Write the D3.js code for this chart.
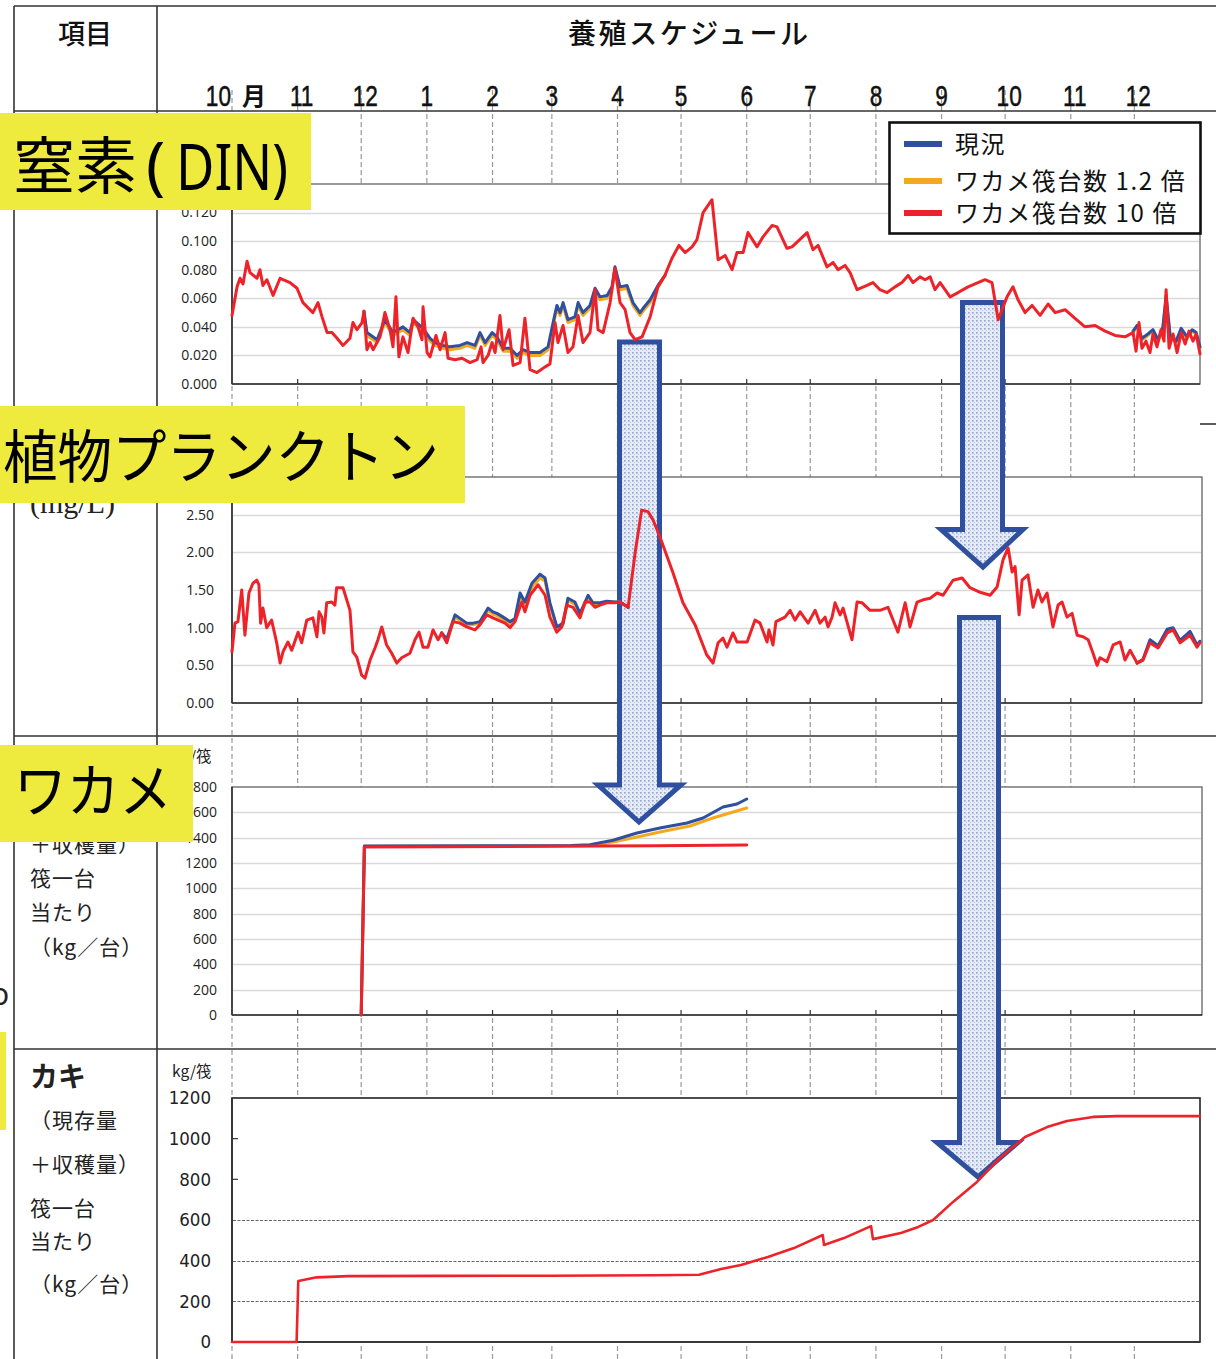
<!DOCTYPE html>
<html>
<head>
<meta charset="utf-8">
<script src="https://cdn.jsdelivr.net/npm/d3@7"></script>
<style>
  html, body { margin: 0; padding: 0; background: #fff; }
  svg { display: block; }
</style>
</head>
<body>
<svg id="chart" width="1216" height="1359"></svg>
<script>
// ---- data -------------------------------------------------------------
// x values are days counted from 1 October (start of the culture season)
const monthLabels = ["10", "11", "12", "1", "2", "3", "4", "5", "6", "7", "8", "9", "10", "11", "12"];
const seriesNames = ["現況", "ワカメ筏台数 1.2 倍", "ワカメ筏台数 10 倍"];

// 窒素 (DIN)
const dinRed = [[0,0.048],[2.4,0.068],[3.8,0.074],[5.2,0.070],[7.1,0.086],[8.5,0.078],[11.8,0.074],[13.2,0.080],[14.6,0.069],[16.5,0.073],[19.4,0.062],[22.7,0.074],[27.4,0.071],[30.7,0.067],[33.5,0.057],[38.2,0.050],[40.6,0.057],[42.5,0.047],[44.9,0.036],[47.2,0.036],[49.6,0.032],[52.4,0.027],[55.7,0.032],[57.1,0.043],[59.0,0.038],[61.4,0.043],[62.3,0.051],[63.7,0.024],[65.2,0.029],[66.6,0.024],[69.9,0.033],[72.2,0.050],[74.6,0.038],[76.0,0.026],[77.4,0.061],[78.8,0.019],[80.7,0.033],[83.1,0.022],[85.5,0.046],[87.8,0.040],[89.7,0.031],[90.2,0.054],[92.1,0.022],[93.5,0.019],[96.3,0.034],[98.2,0.024],[100.6,0.036],[102.0,0.018],[105.3,0.017],[108.6,0.018],[112.4,0.015],[115.7,0.017],[117.6,0.026],[118.5,0.015],[120.9,0.020],[122.8,0.029],[124.2,0.022],[126.5,0.048],[128.0,0.024],[130.8,0.038],[132.7,0.013],[136.0,0.015],[138.3,0.046],[140.7,0.010],[144.0,0.008],[147.8,0.012],[150.1,0.014],[152.5,0.043],[153.9,0.029],[156.3,0.041],[158.6,0.022],[161.0,0.026],[163.4,0.048],[165.7,0.029],[169.0,0.036],[171.4,0.066],[172.8,0.038],[175.2,0.036],[178.5,0.057],[180.8,0.081],[183.2,0.057],[185.6,0.052],[187.9,0.036],[190.3,0.031],[193.6,0.033],[197.4,0.047],[201.1,0.068],[204.4,0.076],[207.7,0.088],[211.0,0.097],[213.9,0.092],[217.2,0.096],[219.5,0.101],[222.4,0.120],[226.6,0.129],[229.5,0.087],[232.8,0.090],[236.1,0.080],[238.4,0.092],[241.3,0.092],[243.6,0.106],[247.9,0.096],[250.7,0.103],[255.0,0.111],[257.3,0.110],[262.0,0.095],[264.4,0.096],[271.5,0.106],[274.3,0.094],[276.7,0.097],[280.9,0.082],[283.8,0.085],[286.1,0.080],[289.4,0.083],[291.8,0.078],[295.1,0.066],[299.8,0.069],[302.6,0.071],[305.9,0.066],[309.3,0.064],[313.0,0.068],[316.3,0.071],[319.2,0.076],[321.5,0.071],[324.8,0.075],[327.2,0.073],[329.6,0.075],[331.9,0.066],[334.3,0.071],[339.0,0.061],[342.8,0.064],[347.5,0.068],[355.5,0.073],[358.8,0.071],[361.7,0.045],[365.9,0.061],[368.7,0.068],[371.1,0.059],[374.4,0.050],[377.7,0.055],[381.5,0.048],[385.3,0.056],[388.6,0.050],[393.3,0.052],[398.0,0.046],[402.7,0.040],[407.5,0.041],[412.2,0.037],[416.9,0.034],[421.6,0.033],[425.4,0.036],[426.8,0.023],[428.2,0.043],[429.6,0.025],[431.5,0.030],[433.4,0.022],[434.8,0.035],[436.7,0.026],[438.6,0.038],[440.0,0.030],[441.0,0.066],[442.4,0.025],[444.3,0.035],[446.2,0.022],[448.1,0.036],[450.0,0.028],[451.8,0.037],[453.7,0.030],[455.2,0.035],[457.0,0.021]];
// 現況 and 1.2倍 only part from the 10倍 case during the wakame season and in late autumn
const dinBlue = [[62.3,0.051],[63.7,0.036],[68.5,0.031],[72.2,0.045],[76.0,0.036],[80.7,0.040],[84.0,0.036],[85.5,0.045],[90.2,0.039],[93.5,0.032],[95.8,0.029],[99.6,0.027],[102.9,0.026],[107.6,0.027],[111.0,0.029],[114.7,0.027],[117.1,0.036],[119.5,0.029],[122.8,0.036],[125.1,0.033],[128.0,0.025],[131.3,0.025],[134.6,0.020],[137.4,0.024],[140.7,0.022],[145.4,0.022],[149.2,0.026],[151.6,0.043],[153.4,0.055],[154.9,0.050],[156.3,0.057],[158.6,0.045],[161.9,0.047],[163.4,0.057],[165.7,0.050],[169.0,0.055],[171.4,0.067],[173.7,0.061],[177.1,0.062],[179.4,0.068],[180.8,0.082],[183.2,0.068],[186.5,0.069],[189.3,0.057],[192.6,0.050],[194.1,0.053],[197.4,0.059],[201.1,0.069],[204.4,0.076]];
const dinOrange = [[62.3,0.051],[63.7,0.034],[68.5,0.029],[72.2,0.043],[76.0,0.034],[80.7,0.038],[84.0,0.034],[85.5,0.043],[90.2,0.037],[93.5,0.030],[95.8,0.027],[99.6,0.025],[102.9,0.024],[107.6,0.025],[111.0,0.027],[114.7,0.025],[117.1,0.034],[119.5,0.027],[122.8,0.034],[125.1,0.031],[128.0,0.023],[131.3,0.023],[134.6,0.018],[137.4,0.022],[140.7,0.020],[145.4,0.020],[149.2,0.024],[151.6,0.041],[153.4,0.053],[154.9,0.048],[156.3,0.055],[158.6,0.043],[161.9,0.045],[163.4,0.055],[165.7,0.048],[169.0,0.053],[171.4,0.065],[173.7,0.059],[177.1,0.060],[179.4,0.066],[180.8,0.081],[183.2,0.066],[186.5,0.067],[189.3,0.055],[192.6,0.048],[194.1,0.051],[197.4,0.057],[201.1,0.068],[204.4,0.076]];
const dinBlueLate = [[425.4,0.037],[427.3,0.041],[429.6,0.032],[432.4,0.035],[434.8,0.038],[437.2,0.031],[439.5,0.040],[441.0,0.062],[442.9,0.034],[445.7,0.030],[448.1,0.039],[450.9,0.033],[453.3,0.038],[455.2,0.036],[457.0,0.026]];
const dinOrangeLate = [[425.4,0.036],[427.3,0.040],[429.6,0.031],[432.4,0.034],[434.8,0.037],[437.2,0.030],[439.5,0.039],[441.0,0.061],[442.9,0.033],[445.7,0.029],[448.1,0.038],[450.9,0.032],[453.3,0.037],[455.2,0.035],[457.0,0.025]];

// 植物プランクトン (mg/L)
const phyRed = [[0,0.68],[1.4,1.06],[2.8,1.08],[4.6,1.50],[6.1,0.90],[8.0,1.46],[9.9,1.59],[11.7,1.63],[12.7,1.57],[13.5,1.06],[14.6,1.26],[16.4,1.00],[18.7,1.10],[21.1,0.80],[22.7,0.53],[24.1,0.68],[26.4,0.81],[28.2,0.70],[31.2,0.94],[32.9,0.80],[35.3,1.10],[38.2,1.13],[40.1,0.88],[41.1,1.21],[42.4,1.14],[43.4,0.93],[44.7,1.33],[47.1,1.34],[48.6,1.30],[49.4,1.53],[52.4,1.53],[55.7,1.23],[57.1,0.68],[58.9,0.61],[61.2,0.37],[62.8,0.33],[65.2,0.57],[67.5,0.73],[68.9,0.84],[70.7,1.01],[73.0,0.77],[75.4,0.66],[77.8,0.53],[80.1,0.60],[84.0,0.66],[86.4,0.84],[88.3,0.94],[90.2,0.74],[92.5,0.74],[94.9,0.97],[97.3,0.84],[99.0,0.93],[101.4,0.80],[104.3,1.08],[107.6,1.06],[110.8,1.01],[114.7,0.97],[117.1,1.04],[120.3,1.17],[123.2,1.13],[125.6,1.10],[128.9,1.06],[131.3,1.00],[133.6,1.08],[136.8,1.34],[138.3,1.21],[140.7,1.43],[144.5,1.57],[147.8,1.43],[150.1,1.14],[153.3,0.94],[155.7,1.01],[158.0,1.30],[161.0,1.27],[164.3,1.13],[166.7,1.34],[169.0,1.34],[171.4,1.27],[173.7,1.30],[176.9,1.33],[180.8,1.33],[183.2,1.34],[187.0,1.27],[190.3,1.99],[193.4,2.56],[196.4,2.54],[198.8,2.43],[202.1,2.20],[208.2,1.73],[212.9,1.33],[218.6,1.04],[224.1,0.64],[227.1,0.53],[229.5,0.80],[231.8,0.86],[233.7,0.74],[236.5,0.93],[238.4,0.81],[243.2,0.81],[246.9,1.10],[249.3,1.06],[252.6,0.81],[253.5,0.97],[255.4,0.77],[256.8,1.08],[261.1,1.14],[263.5,1.23],[265.8,1.10],[268.2,1.21],[272.0,1.06],[275.3,1.23],[277.6,1.06],[280.0,1.14],[281.4,1.01],[283.3,1.14],[284.7,1.33],[287.1,1.17],[288.5,1.26],[292.7,0.84],[295.1,1.34],[297.5,1.33],[301.2,1.23],[305.9,1.23],[309.7,1.27],[314.4,0.94],[317.8,1.33],[320.1,1.01],[323.4,1.34],[326.3,1.37],[329.6,1.39],[332.9,1.46],[335.7,1.43],[340.4,1.63],[344.7,1.66],[348.4,1.53],[353.2,1.47],[357.9,1.43],[361.2,1.54],[364.0,1.90],[366.4,2.06],[368.3,1.74],[369.7,1.81],[371.6,1.17],[373.0,1.63],[375.8,1.70],[378.2,1.27],[380.5,1.50],[382.4,1.34],[384.8,1.46],[387.6,1.01],[390.0,1.30],[391.9,1.34],[394.2,1.14],[396.6,1.19],[399.0,0.90],[401.8,0.88],[404.2,0.84],[406.5,0.66],[408.4,0.50],[409.8,0.60],[413.1,0.55],[416.0,0.77],[419.3,0.81],[421.6,0.57],[424.0,0.70],[427.3,0.53],[430.1,0.57],[433.4,0.80],[437.2,0.73],[441.5,0.93],[444.3,0.97],[447.6,0.80],[452.3,0.90],[455.6,0.74],[457.0,0.80]];
const phyBlue = [[99.0,0.93],[101.4,0.85],[105.3,1.17],[110.8,1.06],[113.8,1.06],[117.1,1.08],[120.9,1.26],[123.2,1.21],[125.1,1.19],[128.0,1.14],[131.3,1.08],[133.6,1.12],[136.0,1.46],[138.3,1.34],[141.6,1.59],[145.4,1.71],[147.8,1.66],[150.1,1.33],[153.4,1.01],[156.3,1.06],[158.6,1.39],[161.9,1.34],[164.3,1.19],[168.1,1.43],[170.4,1.33],[173.7,1.33],[176.9,1.35],[180.8,1.34],[183.2,1.34],[187.0,1.27]];
const phyOrange = [[99.0,0.93],[101.4,0.83],[105.3,1.14],[110.8,1.04],[113.8,1.04],[117.1,1.06],[120.9,1.23],[123.2,1.18],[125.1,1.16],[128.0,1.11],[131.3,1.05],[133.6,1.10],[136.0,1.42],[138.3,1.30],[141.6,1.54],[145.4,1.66],[147.8,1.62],[150.1,1.30],[153.4,0.99],[156.3,1.04],[158.6,1.36],[161.9,1.31],[164.3,1.17],[168.1,1.40],[170.4,1.31],[173.7,1.32],[176.9,1.34],[180.8,1.34],[183.2,1.34],[187.0,1.27]];
const phyBlueLate = [[427.3,0.53],[430.1,0.58],[433.4,0.84],[437.2,0.76],[441.5,0.98],[444.3,1.00],[447.6,0.83],[452.3,0.95],[455.6,0.77],[457.0,0.82]];
const phyOrangeLate = [[427.3,0.53],[430.1,0.57],[433.4,0.82],[437.2,0.74],[441.5,0.96],[444.3,0.98],[447.6,0.82],[452.3,0.93],[455.6,0.76],[457.0,0.81]];

// ワカメ (現存量+収穫量, kg/台)
const wakameBlue = [[61,0],[62.5,1335],[120,1336],[160,1338],[169,1345],[179.9,1380],[191.2,1437],[202,1476],[214.8,1516],[222.4,1555],[231.8,1642],[238.4,1666],[243,1705]];
const wakameOrange = [[61,0],[62.5,1333],[120,1334],[165,1336],[173,1342],[191.2,1405],[202,1445],[216.2,1492],[227,1555],[235,1595],[243,1634]];
const wakameRed = [[61,0],[62.5,1326],[100,1328],[150,1332],[200,1336],[243,1342]];

// カキ (現存量+収穫量, kg/台)
const oysterRed = [[0,0],[30.5,0],[31.3,300],[40,318],[55,324],[100,325],[150,326],[200,328],[220.5,331],[230.9,359],[240.3,379],[253,418],[265.3,462],[278.9,526],[279.5,477],[288.9,511],[301.7,570],[302.6,506],[315.8,536],[324,566],[331,600],[340.4,689],[351.7,787],[362.5,905],[374.4,1008],[384.8,1057],[394.2,1087],[406.5,1107],[417.8,1111],[457,1111]];

// ---- drawing ----------------------------------------------------------
const COLORS = { blue: "#2f4f9f", orange: "#f3a91f", red: "#ee2329" };
const YELLOW = "#eeea3e";
const JP = "'Noto Sans CJK JP', 'Noto Sans', sans-serif";

const svg = d3.select("#chart");
svg.append("rect").attr("width", 1216).attr("height", 1359).attr("fill", "#fff");

const t0 = Date.UTC(2018, 9, 1);
const day = d => new Date(t0 + d * 864e5);
const x = d3.scaleUtc().domain([day(0), day(457)]).range([232, 1200]);
const months = d3.utcMonth.range(day(0), day(457));

// dotted fill for the block arrows
const defs = svg.append("defs");
const pat = defs.append("pattern").attr("id", "dots")
  .attr("width", 4).attr("height", 4).attr("patternUnits", "userSpaceOnUse");
pat.append("rect").attr("width", 4).attr("height", 4).attr("fill", "#e6ebf6");
pat.append("rect").attr("width", 1.6).attr("height", 1.6).attr("fill", "#93a5d4");
pat.append("rect").attr("x", 2).attr("y", 2).attr("width", 1).attr("height", 1).attr("fill", "#b9c6e6");

// layers: table/axes below, block arrows, then the data curves on top
const baseLayer = svg.append("g");
const arrowLayer = svg.append("g");
const dataLayer = svg.append("g");
const topLayer = svg.append("g");

// dashed month guides running through the whole schedule table
baseLayer.append("g").selectAll("line").data(months).join("line")
  .attr("x1", d => x(d)).attr("x2", d => x(d))
  .attr("y1", 90).attr("y2", 1359)
  .attr("stroke", "#9a9a9a").attr("stroke-width", 1.2).attr("stroke-dasharray", "5,3");

// table frame
const table = baseLayer.append("g").attr("stroke", "#333").attr("stroke-width", 1.6);
table.append("line").attr("x1", 14).attr("x2", 1216).attr("y1", 6).attr("y2", 6);
table.append("line").attr("x1", 14).attr("x2", 14).attr("y1", 6).attr("y2", 1359);
table.append("line").attr("x1", 157).attr("x2", 157).attr("y1", 6).attr("y2", 1359);
table.append("line").attr("x1", 14).attr("x2", 1216).attr("y1", 111).attr("y2", 111);
table.append("line").attr("x1", 1200).attr("x2", 1216).attr("y1", 424).attr("y2", 424);
table.append("line").attr("x1", 14).attr("x2", 1216).attr("y1", 736).attr("y2", 736);
table.append("line").attr("x1", 14).attr("x2", 1216).attr("y1", 1049).attr("y2", 1049);

// header
baseLayer.append("text").attr("x", 85).attr("y", 44).attr("text-anchor", "middle")
  .attr("font-family", JP).attr("font-size", 27).attr("font-weight", 500).attr("fill", "#111")
  .text("項目");
baseLayer.append("text").attr("x", 568).attr("y", 44)
  .attr("font-family", JP).attr("font-size", 28).attr("font-weight", 500).attr("fill", "#111")
  .attr("textLength", 240).attr("lengthAdjust", "spacing")
  .text("養殖スケジュール");

// month labels in a narrow face
const monthG = baseLayer.append("g").attr("font-family", "'Liberation Sans', sans-serif")
  .attr("font-size", 29).attr("fill", "#111").attr("stroke", "#111").attr("stroke-width", 0.5);
months.forEach((m, i) => {
  const lab = monthLabels[i];
  if (i === 0) {
    monthG.append("text").attr("transform", `translate(${x(m) - 1},106) scale(0.78,1)`)
      .attr("text-anchor", "end").text(lab);
    monthG.append("text").attr("x", x(m) + 10).attr("y", 105).attr("font-family", JP)
      .attr("stroke", "none").attr("font-size", 24).attr("font-weight", 700).text("月");
  } else {
    monthG.append("text").attr("transform", `translate(${x(m) + (lab.length > 1 ? 4 : 0)},106) scale(0.78,1)`)
      .attr("text-anchor", "middle").text(lab);
  }
});

// chart panels
const panels = [
  { top: 184, bottom: 384, right: 1200, max: 0.14, step: 0.02, fmt: d3.format(".3f"), labelX: 217,
    labelFont: "'Open Sans', sans-serif", labelSize: 14, grid: "solid", gridMax: 0.12, lw: 3,
    lines: [[dinOrange, "orange"], [dinOrangeLate, "orange"], [dinBlue, "blue"], [dinBlueLate, "blue"], [dinRed, "red"]] },
  { top: 477, bottom: 703, right: 1202, max: 3.0, step: 0.5, fmt: d3.format(".2f"), labelX: 214,
    labelFont: "'Open Sans', sans-serif", labelSize: 14, grid: "solid", gridMax: 2.5, lw: 3,
    lines: [[phyOrange, "orange"], [phyOrangeLate, "orange"], [phyBlue, "blue"], [phyBlueLate, "blue"], [phyRed, "red"]] },
  { top: 787, bottom: 1015, right: 1202, max: 1800, step: 200, fmt: d3.format("d"), labelX: 217,
    labelFont: "'Open Sans', sans-serif", labelSize: 14, grid: "solid", gridMax: 1600, lw: 3,
    lines: [[wakameOrange, "orange"], [wakameBlue, "blue"], [wakameRed, "red"]] },
  { top: 1098, bottom: 1342, right: 1200, max: 1200, step: 200, fmt: d3.format("d"), labelX: 211,
    labelFont: "'Liberation Sans Narrow', 'DejaVu Sans Condensed', sans-serif", labelSize: 18.5, grid: "dash", gridMax: 600, lw: 2.6,
    lines: [[oysterRed, "red"]] }
];

panels.forEach((p, pi) => {
  const y = d3.scaleLinear().domain([0, p.max]).range([p.bottom, p.top]);
  const g = baseLayer.append("g");
  const ticks = d3.range(0, p.max + p.step / 2, p.step);

  g.append("rect").attr("x", 232).attr("y", p.top).attr("width", p.right - 232).attr("height", p.bottom - p.top)
    .attr("fill", "#fff").attr("stroke", pi === 3 ? "#222" : "#555").attr("stroke-width", pi === 3 ? 1.6 : 1.2);

  // horizontal gridlines
  g.append("g").selectAll("line").data(ticks.filter(v => v > 0 && v <= p.gridMax + 1e-9)).join("line")
    .attr("x1", 233).attr("x2", p.right - 1)
    .attr("y1", d => Math.round(y(d)) + 0.5).attr("y2", d => Math.round(y(d)) + 0.5)
    .attr("stroke", p.grid === "dash" ? "#666" : "#d9d9d9")
    .attr("stroke-width", p.grid === "dash" ? 1 : 1.4)
    .attr("stroke-dasharray", p.grid === "dash" ? "3,1.5" : null);

  // inner tick marks on the value axis where no gridline is drawn
  g.append("g").selectAll("line").data(ticks.filter(v => v > p.gridMax + 1e-9 && v < p.max - 1e-9)).join("line")
    .attr("x1", 232).attr("x2", 238).attr("y1", d => y(d)).attr("y2", d => y(d))
    .attr("stroke", "#333").attr("stroke-width", 1.2);

  // month ticks on the time axis
  if (pi < 3) {
    g.append("g").selectAll("line").data(months.slice(1)).join("line")
      .attr("x1", d => x(d)).attr("x2", d => x(d)).attr("y1", p.bottom - 5).attr("y2", p.bottom)
      .attr("stroke", "#333").attr("stroke-width", 1.2);
  }

  // axis lines
  g.append("line").attr("x1", 232).attr("x2", 232).attr("y1", p.top).attr("y2", p.bottom)
    .attr("stroke", "#333").attr("stroke-width", 1.6);
  g.append("line").attr("x1", 232).attr("x2", p.right).attr("y1", p.bottom).attr("y2", p.bottom)
    .attr("stroke", "#333").attr("stroke-width", 1.6);

  // value labels
  g.append("g").selectAll("text").data(ticks).join("text")
    .attr("x", p.labelX).attr("y", d => y(d)).attr("dy", "0.35em").attr("text-anchor", "end")
    .attr("font-family", p.labelFont).attr("font-size", p.labelSize).attr("fill", "#222")
    .text(d => p.fmt(d));

  const line = d3.line().x(d => x(day(d[0]))).y(d => y(d[1]));
  p.lines.forEach(([data, key]) => {
    dataLayer.append("path").attr("d", line(data)).attr("fill", "none")
      .attr("stroke", COLORS[key]).attr("stroke-width", p.lw)
      .attr("stroke-linejoin", "round").attr("stroke-linecap", "round");
  });
});

// unit labels above the value axes
baseLayer.append("text").attr("x", 172).attr("y", 762).attr("font-family", JP).attr("font-size", 15.5).attr("fill", "#222").text("kg/筏");
baseLayer.append("text").attr("x", 172).attr("y", 1077).attr("font-family", JP).attr("font-size", 15.5).attr("fill", "#222").text("kg/筏");

// legend
const leg = topLayer.append("g");
leg.append("rect").attr("x", 889.5).attr("y", 122.5).attr("width", 311).attr("height", 111)
  .attr("fill", "#fff").attr("stroke", "#111").attr("stroke-width", 2.6);
const legKeys = ["blue", "orange", "red"];
const legY = [144, 181, 213];
seriesNames.forEach((name, i) => {
  leg.append("line").attr("x1", 904).attr("x2", 942).attr("y1", legY[i]).attr("y2", legY[i])
    .attr("stroke", COLORS[legKeys[i]]).attr("stroke-width", 6);
  leg.append("text").attr("x", 955).attr("y", legY[i]).attr("dy", "0.36em")
    .attr("font-family", JP).attr("font-size", 24).attr("fill", "#111")
    .attr("letter-spacing", 1.6).text(name);
});

// row captions in the item column
const cap = baseLayer.append("g").attr("font-family", JP).attr("fill", "#222");
cap.append("text").attr("x", 30).attr("y", 513).attr("font-family", "'Liberation Serif', serif")
  .attr("font-size", 30).text("(mg/L)");
const captionLines = ["（現存量", "＋収穫量）", "筏一台", "当たり", "（kg／台）"];
const rowCaption = (title, titleY, ys) => {
  cap.append("text").attr("x", 30).attr("y", titleY).attr("font-size", 28).attr("font-weight", 700).text(title);
  captionLines.forEach((t, i) => cap.append("text").attr("x", 30).attr("y", ys[i])
    .attr("font-size", 21).attr("letter-spacing", 1).text(t));
};
rowCaption("ワカメ", 774, [814, 852, 886, 920, 955]);
rowCaption("カキ", 1087, [1128, 1172, 1216, 1249, 1292]);
cap.append("text").attr("x", -9).attr("y", 1005).attr("font-family", "'Noto Sans', sans-serif").attr("font-size", 30).text("o");

// block arrows linking the panels
const arrows = [
  { l: 619.5, r: 659.5, top: 342, base: 785, wl: 598, wr: 681, tx: 639, ty: 822 },
  { l: 962.5, r: 1002.5, top: 302.5, base: 529.5, wl: 941, wr: 1023, tx: 983, ty: 567 },
  { l: 959.5, r: 998.5, top: 617.5, base: 1142.5, wl: 937, wr: 1018, tx: 978, ty: 1177 }
];
arrowLayer.selectAll("path").data(arrows).join("path")
  .attr("d", a => `M${a.l},${a.top}H${a.r}V${a.base}H${a.wr}L${a.tx},${a.ty}L${a.wl},${a.base}H${a.l}Z`)
  .attr("fill", "url(#dots)").attr("stroke", "#2f4f9f").attr("stroke-width", 5)
  .attr("stroke-linejoin", "miter");

// yellow panel titles
const tag = topLayer.append("g");
tag.append("rect").attr("x", 0).attr("y", 113).attr("width", 311).attr("height", 97).attr("fill", YELLOW);
tag.append("text").attr("x", 13).attr("y", 189).attr("font-family", JP).attr("font-size", 62).attr("fill", "#000").text("窒素");
tag.append("text").attr("x", 146).attr("y", 188).attr("font-family", "'Noto Sans', sans-serif").attr("font-size", 64).attr("fill", "#000").text("(");
tag.append("text").attr("x", 176).attr("y", 190).attr("font-family", "'Noto Sans', sans-serif").attr("font-size", 64)
  .attr("fill", "#000").attr("textLength", 112).attr("lengthAdjust", "spacingAndGlyphs").text("DIN)");

tag.append("rect").attr("x", 0).attr("y", 406).attr("width", 465).attr("height", 97).attr("fill", YELLOW);
tag.append("text").attr("x", 3).attr("y", 478).attr("font-family", JP).attr("font-size", 58).attr("fill", "#000")
  .attr("textLength", 436).attr("lengthAdjust", "spacingAndGlyphs").text("植物プランクトン");

tag.append("rect").attr("x", 0).attr("y", 745).attr("width", 193).attr("height", 97).attr("fill", YELLOW);
tag.append("text").attr("x", 14).attr("y", 812).attr("font-family", JP).attr("font-size", 58).attr("fill", "#000")
  .attr("textLength", 158).attr("lengthAdjust", "spacingAndGlyphs").text("ワカメ");

tag.append("rect").attr("x", 0).attr("y", 1032).attr("width", 6).attr("height", 98).attr("fill", YELLOW);
</script>
</body>
</html>
